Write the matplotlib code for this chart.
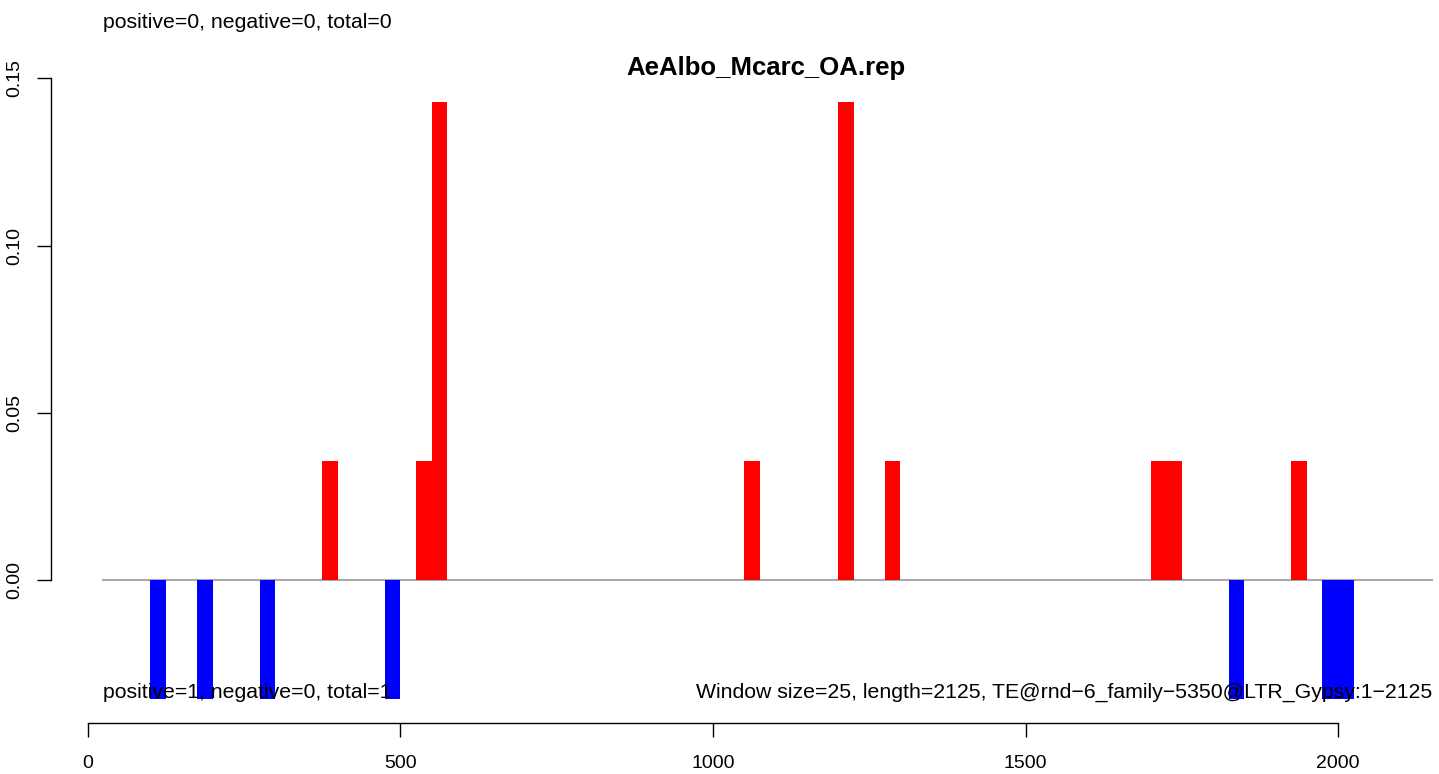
import matplotlib
matplotlib.use('Agg')
import matplotlib.pyplot as plt

# window starts (size 25) and their scores
pos_start = [375, 525, 550, 1050, 1200, 1275, 1700, 1725, 1925]
pos_val = [0.0357, 0.0357, 0.1429, 0.0357, 0.1429, 0.0357, 0.0357, 0.0357, 0.0357]
neg_start = [100, 175, 275, 475, 1825, 1975, 2000]
neg_val = [-0.0357, -0.0357, -0.0357, -0.0357, -0.0357, -0.0357, -0.0357]

win = 25
seq_len = 2125
title = 'AeAlbo_Mcarc_OA.rep'
top_note = 'positive=0, negative=0, total=0'
bottom_note = 'positive=1, negative=0, total=1'
info = 'Window size=25, length=2125, TE@rnd\u22126_family\u22125350@LTR_Gypsy:1\u22122125'

xticks = [0, 500, 1000, 1500, 2000]
yticks = [0.00, 0.05, 0.10, 0.15]

plt.rcParams['font.family'] = ['Liberation Sans', 'DejaVu Sans']

W, H = 1439, 774
fig = plt.figure(figsize=(W / 100, H / 100), dpi=100)
# axes box in pixels: left=51, right=1439, top=78, bottom=722.7
ax = fig.add_axes([51 / W, (H - 722.7) / H, (W - 51) / W, (722.7 - 78.3) / H])

px = 0.6252  # pixels per bp
x0 = 87.7
ax.set_xlim((51 - x0) / px, (W - x0) / px)
ax.set_ylim(-0.04266, 0.15)

ax.plot([win, seq_len + win], [0, 0], color='#a9a9a9', lw=1.5, zorder=1)
ax.bar(pos_start, pos_val, width=win, align='edge', color='red', lw=0, zorder=2)
ax.bar(neg_start, neg_val, width=win, align='edge', color='blue', lw=0, zorder=2)

for s in ['top', 'right']:
    ax.spines[s].set_visible(False)
ax.spines['left'].set_bounds(0, 0.15)
ax.spines['bottom'].set_bounds(0, 2000)
for s in ['left', 'bottom']:
    ax.spines[s].set_linewidth(1.0)

ax.set_xticks(xticks)
ax.set_xticklabels([str(t) for t in xticks])
ax.set_yticks(yticks)
ax.set_yticklabels(['%.2f' % t for t in yticks], rotation=90, va='center')
ax.tick_params(axis='both', length=10, width=1.0, labelsize=14)
ax.tick_params(axis='x', pad=13)
ax.tick_params(axis='y', pad=10)

fs = 15.3
ax.text(win, 0.1667, top_note, fontsize=fs, ha='left', va='center', clip_on=False)
ax.text(win, -0.0335, bottom_note, fontsize=fs, ha='left', va='center')
ax.text(seq_len + win, -0.0335, info, fontsize=fs, ha='right', va='center')
fig.text(766 / W, 1 - 68 / H, title, fontsize=18.5, fontweight='bold', ha='center', va='center')

fig.savefig('out.png', dpi=100)
